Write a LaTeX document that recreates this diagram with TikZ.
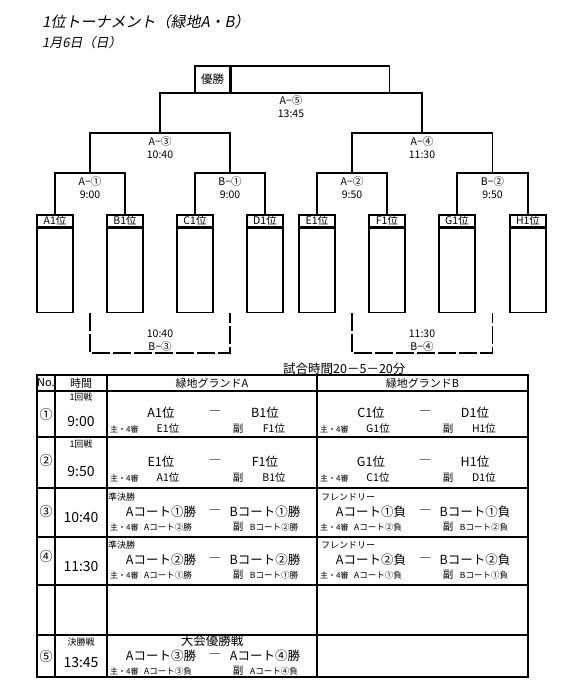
\documentclass[tikz,border=0pt]{standalone}
\usepackage{fontspec}
\setmainfont{Noto Sans CJK JP}
\newfontfamily\slantfont[FakeSlant=0.2]{Noto Sans CJK JP}
\usetikzlibrary{positioning}

\begin{document}
\begin{tikzpicture}[x=1pt, y=-1pt,
      line/.style={line width=1.4pt},
      head/.style={draw, line width=1.4pt, minimum width=36pt, minimum height=12pt, inner sep=0pt, font=\fontsize{10.5}{12}\selectfont},
      body/.style={draw, line width=1.4pt, minimum width=36pt, minimum height=84pt, inner sep=0pt},
      game/.style={align=center, inner sep=0pt, font=\fontsize{10.5}{13}\selectfont},
      dashline/.style={line width=1.4pt, dash pattern=on 18pt off 3pt},
      grid/.style={line width=1.8pt},
      hdr/.style={inner sep=0pt, font=\fontsize{11}{13}\selectfont},
      num/.style={inner sep=0pt, font=\fontsize{13}{15}\selectfont},
      time/.style={inner sep=0pt, font=\fontsize{14}{16}\selectfont},
      lbl/.style={inner sep=0pt, font=\fontsize{9}{11}\selectfont},
      team/.style={inner sep=0pt, font=\fontsize{12.5}{14}\selectfont},
      reflbl/.style={inner sep=0pt, anchor=west, font=\fontsize{8}{10}\selectfont},
      refbig/.style={inner sep=0pt, font=\fontsize{10.5}{12}\selectfont},
      refsmall/.style={inner sep=0pt, font=\fontsize{8.5}{10}\selectfont}
    ]
    \useasboundingbox (0,0) rectangle (568,690);

    % title
    \node[anchor=west, inner sep=0pt, font=\slantfont\fontsize{15}{17}\selectfont] (title) at (42,22) {1位トーナメント（緑地A・B）};
    \node[anchor=west, inner sep=0pt, font=\slantfont\fontsize{13}{15}\selectfont] (date) at (42,43) {1月6日（日）};

    % teams
    \foreach \t/\x in {A/55,B/125,C/195,D/265,E/317,F/387,G/457,H/528}{
      \node[head] (h\t) at (\x,221) {\t1位};
      \node[body, below=0pt of h\t] (b\t) {};
    }

    % bracket
    \coordinate (jA1) at (90,173);
    \coordinate (jB1) at (230,173);
    \coordinate (jA2) at (352,173);
    \coordinate (jB2) at (492.5,173);
    \coordinate (jA3) at (160,133);
    \coordinate (jA4) at (422,133);
    \coordinate (jA5) at (291,93);
    \coordinate (jB3) at (160,353);
    \coordinate (jB4) at (422,353);

    \draw[line] (hA.north) |- (jA1) -| (hB.north);
    \draw[line] (hC.north) |- (jB1) -| (hD.north);
    \draw[line] (hE.north) |- (jA2) -| (hF.north);
    \draw[line] (hG.north) |- (jB2) -| (hH.north);
    \draw[line] (jA1) |- (jA3) -| (jB1);
    \draw[line] (jA2) |- (jA4) -| (jB2);
    \draw[line] (jA3) |- (jA5) -| (jA4);

    \node[draw, line, minimum width=35pt, minimum height=27pt, inner sep=0pt, font=\fontsize{11.5}{13}\selectfont] (win) at (212.5,79.5) {優勝};
    \node[draw, line, minimum width=158pt, minimum height=27pt, inner sep=0pt, right=0pt of win] (winbox) {};

    \node[game, below=2pt of jA5] (gA5) {A−⑤\\13:45};
    \node[game, below=3pt of jA3] (gA3) {A−③\\10:40};
    \node[game, below=3pt of jA4] (gA4) {A−④\\11:30};
    \node[game, below=3pt of jA1] (gA1) {A−①\\9:00};
    \node[game, below=3pt of jB1] (gB1) {B−①\\9:00};
    \node[game, below=3pt of jA2] (gA2) {A−②\\9:50};
    \node[game, below=3pt of jB2] (gB2) {B−②\\9:50};

    % friendly (dashed)
    \draw[dashline] (jA1 |- bA.south) |- (jB3) -| (jB1 |- bA.south);
    \draw[dashline] (jA2 |- bA.south) |- (jB4) -| (jB2 |- bA.south);
    \node[game, above=1pt of jB3] (gB3) {10:40\\B−③};
    \node[game, above=1pt of jB4] (gB4) {11:30\\B−④};

    % schedule table
    \node[anchor=west, inner sep=0pt, font=\fontsize{12.5}{15}\selectfont] (dur) at (283,369) {試合時間20－5－20分};
    \draw[grid] (37,375) rectangle (528,677);
    \foreach \y in {391,437,488,537,585,635} \draw[grid] (37,\y) -- (528,\y);
    \foreach \x in {55,107,317} \draw[grid] (\x,375) -- (\x,677);

    \node[hdr] (hno) at (46,383) {No.};
    \node[hdr] (htime) at (81,383) {時間};
    \node[hdr] (hgA) at (212,383) {緑地グランドA};
    \node[hdr] (hgB) at (422.5,383) {緑地グランドB};

    \node[num] (n1) at (46,415) {①};
    \node[num] (n2) at (46,461) {②};
    \node[num] (n3) at (46,512) {③};
    \node[num] (n4) at (46,557) {④};
    \node[num] (n5) at (46,657) {⑤};

    \node[lbl] (l1) at (81,397) {1回戦};
    \node[time] (t1) at (81,422) {9:00};
    \node[lbl] (l2) at (81,444) {1回戦};
    \node[time] (t2) at (81,472) {9:50};
    \node[time] (t3) at (81,518) {10:40};
    \node[time] (t4) at (81,567) {11:30};
    \node[lbl] (l5) at (81,642) {決勝戦};
    \node[time] (t5) at (81,662) {13:45};

    \node[lbl, anchor=west] (s3) at (108,497) {準決勝};
    \node[lbl, anchor=west] (f3) at (321,497) {フレンドリー};
    \node[lbl, anchor=west] (s4) at (108,545) {準決勝};
    \node[lbl, anchor=west] (f4) at (321,545) {フレンドリー};
    \node[team] (fin) at (212,641) {大会優勝戦};

    \foreach \c/\y/\ta/\tb/\ra/\rb in {107/413/A1位/B1位/E1位/F1位, 317/413/C1位/D1位/G1位/H1位,
        107/462/E1位/F1位/A1位/B1位, 317/462/G1位/H1位/C1位/D1位}{
      \node[team] (p\c-\y-a) at (\c+54,\y) {\ta};
      \node[team] (p\c-\y-v) at (\c+108,\y) {―};
      \node[team] (p\c-\y-b) at (\c+158,\y) {\tb};
      \node[reflbl] (r\c-\y-l) at (\c+3,\y+16) {主・4審};
      \node[refbig] (r\c-\y-a) at (\c+61,\y+16) {\ra};
      \node[refbig] (r\c-\y-s) at (\c+131,\y+16) {副};
      \node[refbig] (r\c-\y-b) at (\c+167,\y+16) {\rb};
    }
    \foreach \c/\y/\ta/\tb/\ra/\rb in {107/512/Aコート①勝/Bコート①勝/Aコート②勝/Bコート②勝,
        317/512/Aコート①負/Bコート①負/Aコート②負/Bコート②負,
        107/560/Aコート②勝/Bコート②勝/Aコート①勝/Bコート①勝,
        317/560/Aコート②負/Bコート②負/Aコート①負/Bコート①負,
        107/656/Aコート③勝/Aコート④勝/Aコート③負/Aコート④負}{
      \node[team] (p\c-\y-a) at (\c+54,\y) {\ta};
      \node[team] (p\c-\y-v) at (\c+108,\y) {―};
      \node[team] (p\c-\y-b) at (\c+158,\y) {\tb};
      \node[reflbl] (r\c-\y-l) at (\c+3,\y+15) {主・4審};
      \node[refsmall] (r\c-\y-a) at (\c+61,\y+15) {\ra};
      \node[refbig] (r\c-\y-s) at (\c+131,\y+15) {副};
      \node[refsmall] (r\c-\y-b) at (\c+167,\y+15) {\rb};
    }
  \end{tikzpicture}
\end{document}
